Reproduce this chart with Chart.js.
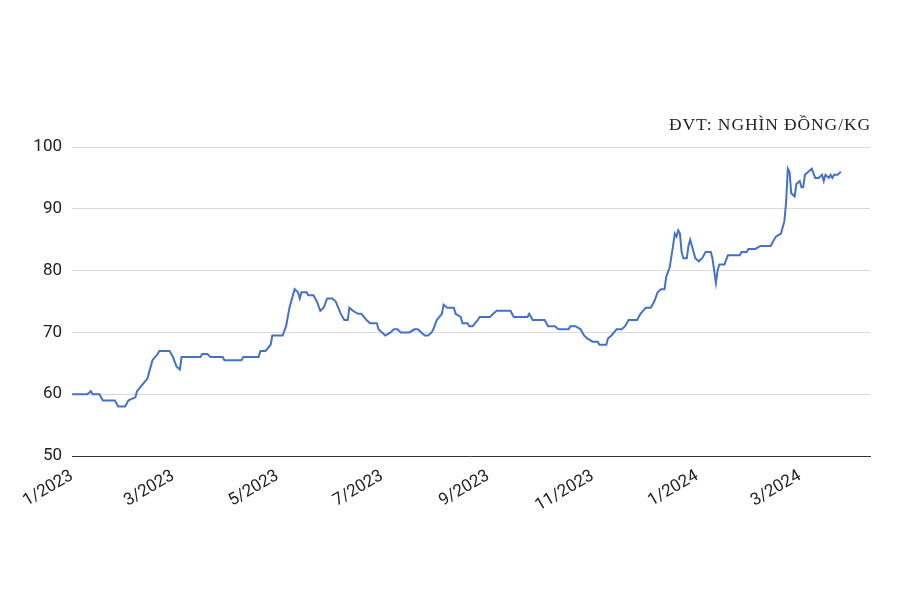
<!DOCTYPE html>
<html><head><meta charset="utf-8">
<script src="https://cdn.jsdelivr.net/npm/chart.js@4"></script>
<style>body{margin:0;background:#fff}#u{position:absolute;left:0;top:114px;width:871px;text-align:right;font-family:"Liberation Serif",serif;font-size:17.5px;color:#222;letter-spacing:0.9px}</style>
</head><body>
<canvas id="c" width="900" height="600"></canvas>
<div id="u">ĐVT: NGHÌN ĐỒNG/KG</div>
<script>
const days=[0,9,11,12,16,18,25,27,31,33,37,38,41,44,46,47,50,51,57,59,61,63,64,75,76,79,81,88,89,99,100,109,110,113,116,117,123,125,127,128,130,132,133,134,137,138,141,143,145,147,149,152,154,157,159,161,162,164,167,169,172,174,178,179,181,183,186,188,190,192,197,200,202,204,206,208,210,211,213,216,217,219,223,224,227,228,231,232,234,237,238,244,246,248,256,258,266,267,269,276,278,282,284,290,291,294,297,299,301,304,307,308,312,313,315,318,321,323,325,330,332,335,338,340,342,344,346,347,349,351,352,353,354,355,356,357,359,360,361,363,364,366,368,370,373,374,375,376,377,378,381,383,390,391,394,395,399,402,408,409,411,414,416,417,418,419,420,422,423,425,426,427,428,430,432,434,436,438,439,440,442,443,444,445,447,449];
const prices=[60,60,60.5,60,60,59,59,58,58,59,59.5,60.5,61.5,62.5,64.5,65.5,66.5,67,67,66,64.5,64,66,66,66.5,66.5,66,66,65.5,65.5,66,66,67,67,68,69.5,69.5,71,74,75,77,76.5,75.5,76.5,76.5,76,76,75,73.5,74,75.5,75.5,75,73,72,72,74,73.5,73,73,72,71.5,71.5,70.5,70,69.5,70,70.5,70.5,70,70,70.5,70.5,70,69.5,69.5,70,70.5,72,73,74.5,74,74,73,72.5,71.5,71.5,71,71,72,72.5,72.5,73,73.5,73.5,72.5,72.5,73,72,72,71,71,70.5,70.5,71,71,70.5,69.5,69,68.5,68.5,68,68,69,69.5,70.5,70.5,71,72,72,73,74,74,75,76.5,77,77,79,80.5,84,86,85.5,86.5,86,83,82,82,84,85,83,82,81.5,82,83,83,82,80,78,80,81,81,82.5,82.5,83,83,83.5,83.5,84,84,84.5,85.5,86,88,91,96.5,96,92.5,92,94,94.5,93.5,93.5,95.5,96,96.5,95,95,95.5,94.5,95.5,95,95.5,95,95.5,95.5,96];
const tickDays=[0,59,120,181,243,304,365,425];
const tickLabels=["1/2023","3/2023","5/2023","7/2023","9/2023","11/2023","1/2024","3/2024"];
const yTicks=[50,60,70,80,90,100];
const pts=days.map((d,i)=>({x:d,y:prices[i]}));
new Chart(document.getElementById('c'),{type:'line',
data:{datasets:[{data:pts,borderColor:'#4472c4',borderWidth:2,pointRadius:0,tension:0}]},
options:{responsive:false,animation:false,plugins:{legend:{display:false},tooltip:{enabled:false}},
layout:{padding:{left:0,right:30,top:147,bottom:0}},
scales:{
x:{type:'linear',min:0,max:466,afterFit:s=>{s.height=144},
 afterBuildTicks:s=>{s.ticks=tickDays.map(v=>({value:v}))},
 ticks:{callback:(v)=>{const i=tickDays.indexOf(v);return i>=0?tickLabels[i]:''},maxRotation:30,minRotation:30,autoSkip:false,font:{family:'Roboto',size:17},color:'#222',padding:4},
 grid:{display:false,drawTicks:true,tickLength:6},border:{color:'#333',width:1}},
y:{min:50,max:100,afterFit:s=>{s.width=72},
 afterBuildTicks:s=>{s.ticks=yTicks.map(v=>({value:v}))},
 ticks:{font:{family:'Roboto',size:17},color:'#222',padding:10},
 grid:{color:'#d9d9d9',drawTicks:false},border:{display:false}}
}}});
</script></body></html>
